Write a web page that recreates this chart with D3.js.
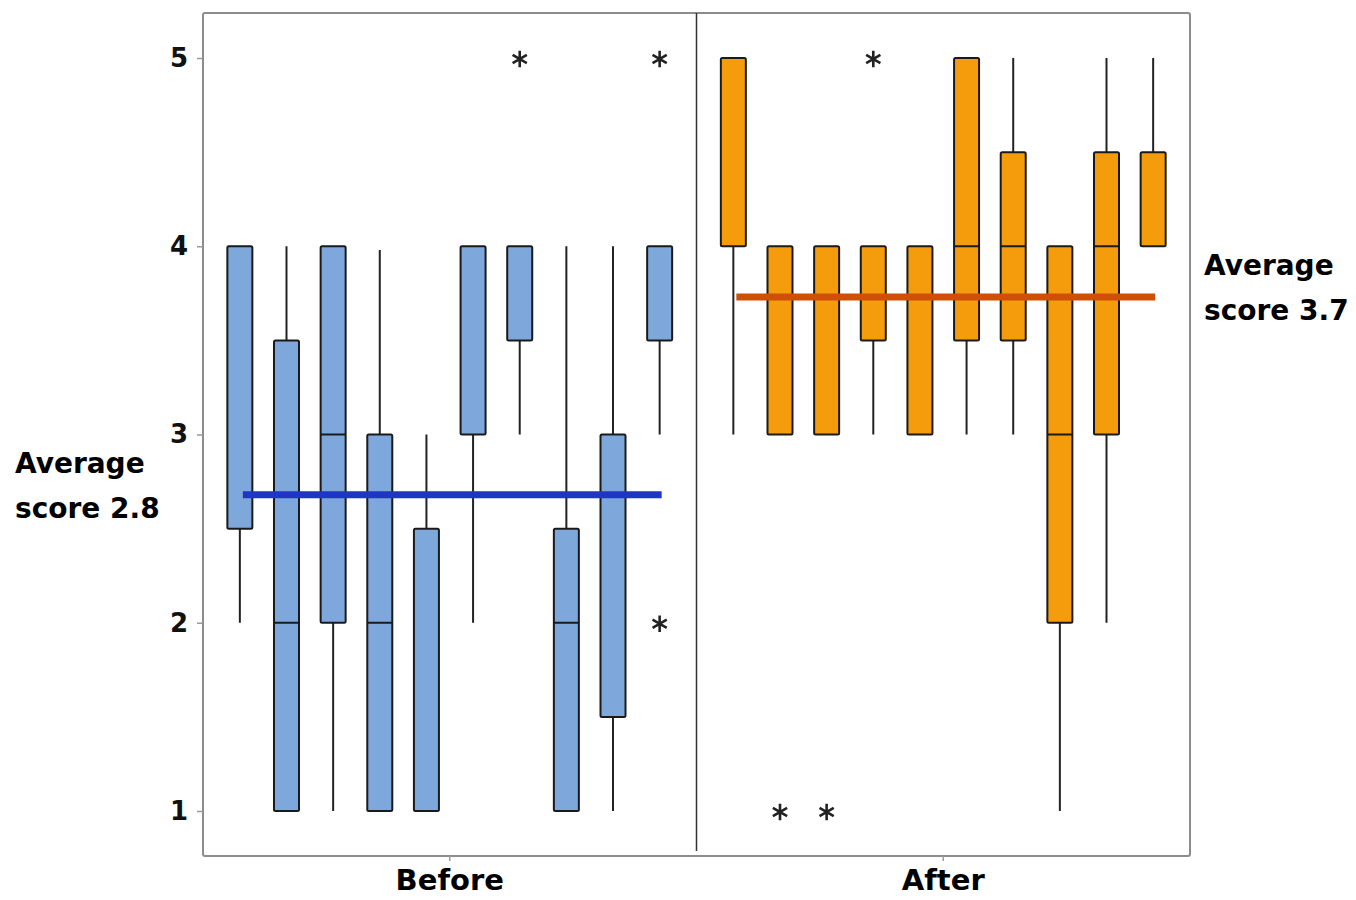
<!DOCTYPE html>
<html>
<head>
<meta charset="utf-8">
<script src="https://cdn.jsdelivr.net/npm/d3@7"></script>
<style>
  body { margin: 0; background: #fff; }
  text { font-family: "DejaVu Sans", sans-serif; }
</style>
</head>
<body>
<div id="chart"></div>
<script>
// data
var groups = ["Before", "After"];
var items = ["Q1", "Q2", "Q3", "Q4", "Q5", "Q6", "Q7", "Q8", "Q9", "Q10"];
var yTicks = [1, 2, 3, 4, 5];

var beforeLow    = [2, 1, 1, 1, 1, 2, 3, 1, 1, 3];
var beforeQ1     = [2.5, 1, 2, 1, 1, 3, 3.5, 1, 1.5, 3.5];
var beforeMedian = [4, 2, 3, 2, 1, 4, 4, 2, 3, 4];
var beforeQ3     = [4, 3.5, 4, 3, 2.5, 4, 4, 2.5, 3, 4];
var beforeHigh   = [4, 4, 4, 3.98, 3, 4, 4, 4, 4, 4];
var beforeOutliers = [[], [], [], [], [], [], [5], [], [], [5, 2]];

var afterLow    = [3, 3, 3, 3, 3, 3, 3, 1, 2, 4];
var afterQ1     = [4, 3, 3, 3.5, 3, 3.5, 3.5, 2, 3, 4];
var afterMedian = [5, 4, 4, 4, 4, 4, 4, 3, 4, 4.5];
var afterQ3     = [5, 4, 4, 4, 4, 5, 4.5, 4, 4.5, 4.5];
var afterHigh   = [5, 4, 4, 4, 4, 5, 5, 4, 5, 5];
var afterOutliers = [[], [1], [1], [5], [], [], [], [], [], []];

var averages = [2.68, 3.73];
var averageLabels = [["Average", "score 2.8"], ["Average", "score 3.7"]];

var width = 1356, height = 900;
var plot = {left: 203, right: 1190, top: 13, bottom: 856};

function build(low, q1, med, q3, high, out) {
    return items.map(function (it, i) {
        return {item: it, low: low[i], q1: q1[i], med: med[i], q3: q3[i], high: high[i], out: out[i]};
    });
}
var series = [
    {group: "Before", fill: "#7ea7dc", line: "#1f36c4",
     boxes: build(beforeLow, beforeQ1, beforeMedian, beforeQ3, beforeHigh, beforeOutliers)},
    {group: "After", fill: "#f59c0c", line: "#cf4f06",
     boxes: build(afterLow, afterQ1, afterMedian, afterQ3, afterHigh, afterOutliers)}
];

var svg = d3.select("#chart").append("svg")
    .attr("width", width)
    .attr("height", height);

var y = d3.scaleLinear().domain([1, 5]).range([811, 58]);
var panel = d3.scaleBand().domain(groups).range([plot.left, plot.right]);
var boxW = 25;

// frame
svg.append("rect")
    .attr("x", plot.left).attr("y", plot.top)
    .attr("width", plot.right - plot.left).attr("height", plot.bottom - plot.top)
    .attr("rx", 2)
    .attr("fill", "none").attr("stroke", "#8c8c8c").attr("stroke-width", 2);

// panel divider
svg.append("line")
    .attr("x1", panel("After")).attr("x2", panel("After"))
    .attr("y1", plot.top).attr("y2", plot.bottom - 5)
    .attr("stroke", "#333").attr("stroke-width", 1.5);

// y axis
var yAxis = svg.append("g")
    .attr("transform", "translate(" + plot.left + ",0)")
    .call(d3.axisLeft(y).tickValues(yTicks).tickSize(6).tickPadding(9).tickFormat(d3.format("d")));
yAxis.select(".domain").remove();
yAxis.selectAll(".tick line").attr("stroke", "#999").attr("stroke-width", 1.5);
yAxis.selectAll(".tick text")
    .attr("fill", "#111")
    .style("font-size", "26px").style("font-weight", "700");

// x axis
var xAxis = svg.append("g")
    .attr("transform", "translate(0," + plot.bottom + ")")
    .call(d3.axisBottom(panel).tickSize(5).tickPadding(8));
xAxis.select(".domain").remove();
xAxis.selectAll(".tick line").attr("stroke", "#999").attr("stroke-width", 1.5);
xAxis.selectAll(".tick text")
    .attr("fill", "#000")
    .style("font-size", "29px").style("font-weight", "700");

series.forEach(function (s) {
    var x = d3.scalePoint().domain(items)
        .range([panel(s.group), panel(s.group) + panel.bandwidth()])
        .padding(0.79);

    var g = svg.append("g").attr("class", "series-" + s.group);

    // whiskers
    g.selectAll(".whisker")
        .data(s.boxes)
        .enter()
        .append("line")
        .attr("x1", function (d) { return x(d.item); })
        .attr("x2", function (d) { return x(d.item); })
        .attr("y1", function (d) { return y(d.low); })
        .attr("y2", function (d) { return y(d.high); })
        .attr("stroke", "#222").attr("stroke-width", 2);

    // boxes
    g.selectAll(".box")
        .data(s.boxes)
        .enter()
        .append("rect")
        .attr("x", function (d) { return x(d.item) - boxW / 2; })
        .attr("y", function (d) { return y(d.q3); })
        .attr("width", boxW)
        .attr("height", function (d) { return y(d.q1) - y(d.q3); })
        .attr("rx", 1.5)
        .attr("fill", s.fill)
        .attr("stroke", "#1a1a1a").attr("stroke-width", 2);

    // medians
    g.selectAll(".median")
        .data(s.boxes.filter(function (d) { return d.med > d.q1 && d.med < d.q3; }))
        .enter()
        .append("line")
        .attr("x1", function (d) { return x(d.item) - boxW / 2; })
        .attr("x2", function (d) { return x(d.item) + boxW / 2; })
        .attr("y1", function (d) { return y(d.med); })
        .attr("y2", function (d) { return y(d.med); })
        .attr("stroke", "#1a1a1a").attr("stroke-width", 2);

    // outliers
    var outs = [];
    s.boxes.forEach(function (d) { d.out.forEach(function (v) { outs.push({item: d.item, v: v}); }); });
    g.selectAll(".outlier")
        .data(outs)
        .enter()
        .append("path")
        .attr("d", d3.symbol(d3.symbolAsterisk, 190))
        .attr("transform", function (d) { return "translate(" + x(d.item) + "," + (y(d.v) + 1) + ")"; })
        .attr("fill", "none").attr("stroke", "#222").attr("stroke-width", 2.6);

    // average line
    var gi = groups.indexOf(s.group);
    g.append("line")
        .attr("x1", x(items[0]) + 3)
        .attr("x2", x(items[items.length - 1]) + 2)
        .attr("y1", y(averages[gi]))
        .attr("y2", y(averages[gi]))
        .attr("stroke", s.line).attr("stroke-width", 7);
});

// average labels
var labelPos = [{x: 15, y: 473}, {x: 1204, y: 275}];
averageLabels.forEach(function (lines, i) {
    var t = svg.append("text")
        .attr("x", labelPos[i].x).attr("y", labelPos[i].y)
        .attr("fill", "#000")
        .style("font-size", "28px").style("font-weight", "700");
    lines.forEach(function (l, j) {
        t.append("tspan").attr("x", labelPos[i].x).attr("dy", j === 0 ? 0 : 45).text(l);
    });
});
</script>
</body>
</html>
